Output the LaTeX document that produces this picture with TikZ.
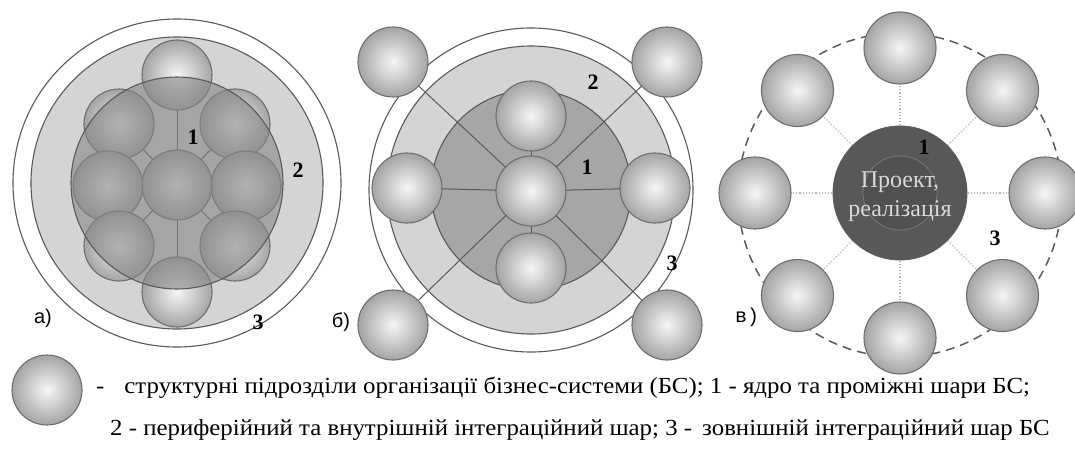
\documentclass[tikz,border=0pt]{standalone}
\usepackage{fontspec}
\usetikzlibrary{calc}
\setmainfont{Liberation Serif}
\newfontfamily\sanslab{Liberation Sans}
\newfontfamily\monolab{Liberation Mono}
\newfontfamily\keyfont[FakeStretch=1.08]{Liberation Serif}
\definecolor{ballline}{HTML}{6E6E6E}
\definecolor{ballgrey}{HTML}{A4A4A4}
\definecolor{ballhi}{HTML}{F6F6F6}
\definecolor{ringline}{HTML}{5A5A5A}
\definecolor{layertwo}{HTML}{D4D4D4}
\definecolor{layerone}{HTML}{A6A6A6}
\definecolor{veil}{HTML}{868686}
\definecolor{core}{HTML}{585858}
\definecolor{corein}{HTML}{505050}
\definecolor{dotgrey}{HTML}{B4B4B4}
\definecolor{coretext}{HTML}{D8D8D8}
\begin{document}
\begin{tikzpicture}[x=1pt,y=-1pt,
  unit/.style={circle, draw=ballline, line width=1.1pt, inner color=ballhi,
    outer color=ballgrey, minimum size=70pt, inner sep=0pt, outer sep=0pt},
  ring/.style={draw=ringline, line width=1.1pt},
  link/.style={draw=ringline, line width=1pt},
  spoke/.style={draw=dotgrey, line width=1.2pt, dotted},
  num/.style={font=\fontsize{22}{22}\selectfont\bfseries, inner sep=0pt},
  tag/.style={font=\sanslab\fontsize{20}{20}\selectfont, inner sep=0pt},
  legend/.style={font=\keyfont\fontsize{23}{26}\selectfont, inner sep=0pt, anchor=base west},
]
\useasboundingbox (0,0) rectangle (1075,452);
\fill[white] (0,0) rectangle (1075,452);

% ---------- a) ----------
\draw[ring, fill=white] (177,183) circle[radius=164pt];
\draw[ring, fill=layertwo] (177,183) circle[radius=146pt];
\node[unit] (a1) at (177,75) {};
\node[unit] (a9) at (177,292) {};
\node[unit] (a2) at (119,124) {};
\node[unit] (a3) at (235,124) {};
\node[unit] (a4) at (108,186) {};
\node[unit] (a5) at (246,186) {};
\node[unit] (a6) at (119,246) {};
\node[unit] (a7) at (235,246) {};
\node[unit] (a0) at (177,185) {};
\foreach \k in {1,...,7,9} \draw[link] (a0) -- (a\k);
\draw[draw=ringline, line width=1.1pt, fill=veil, fill opacity=0.6]
  (177,183) circle[radius=106pt];
\node[num] (a-n1) at (193,137) {1};
\node[num] (a-n2) at (298,170) {2};
\node[num] (a-n3) at (258,322) {3};
\node[tag] (a-tag) at (43,318) {а)};

% ---------- б) ----------
\draw[ring, fill=white] (531,190) circle[radius=162pt];
\draw[ring, fill=layertwo] (531,190) circle[radius=144pt];
\draw[ring, fill=layerone] (531,190) circle[radius=100pt];
\node[unit] (b0) at (531,191) {};
\node[unit] (b1) at (531,116) {};
\node[unit] (b2) at (531,268) {};
\node[unit] (b3) at (407,188) {};
\node[unit] (b4) at (655,188) {};
\node[unit] (b5) at (393,62) {};
\node[unit] (b6) at (667,62) {};
\node[unit] (b7) at (393,325) {};
\node[unit] (b8) at (667,325) {};
\foreach \k in {1,...,8} \draw[link] (b0) -- (b\k);
\node[num] (b-n2) at (593,82) {2};
\node[num] (b-n1) at (587,167) {1};
\node[num] (b-n3) at (672,263) {3};
\node[tag] (b-tag) at (341,322) {б)};

% ---------- в) ----------
\draw[draw=ringline, line width=1.5pt, dash pattern=on 9pt off 6pt]
  (900,195) circle[radius=162pt];
\node[circle, fill=core, draw=ringline, line width=0.8pt, minimum size=134pt,
  inner sep=0pt] (c0) at (900,193) {};
\foreach \k/\ang in {1/90,2/135,3/180,4/225,5/270,6/315,7/0,8/45}
  \node[unit, minimum size=72pt] (c\k) at ($(900,193)+(\ang:145pt)$) {};
\foreach \k in {1,...,8} \draw[spoke] (c0) -- (c\k);
\draw[draw=core!80!white, line width=0.8pt, fill=corein] (900,193) circle[radius=37pt];
\node[align=center, text=coretext, inner sep=0pt,
  font=\fontsize{24}{29}\selectfont] (c-text) at (900,197) {Проект,\\реалізація};
\node[num] (c-n1) at (924,147) {1};
\node[num] (c-n3) at (995,238) {3};
\node[font=\monolab\fontsize{20}{20}\selectfont, inner sep=0pt] (c-tag) at (747,317) {в)};

% ---------- legend ----------
\node[unit] (key) at (47,390) {};
\node[legend] (l1) at (96,393)
  {-\hspace{20pt}структурні підрозділи організації бізнес-системи (БС); 1 - ядро та проміжні шари БС;};
\node[legend] (l2) at (110,435)
  {2 - периферійний та внутрішній інтеграційний шар; 3 -\hspace{10pt}зовнішній інтеграційний шар БС};
\end{tikzpicture}
\end{document}
